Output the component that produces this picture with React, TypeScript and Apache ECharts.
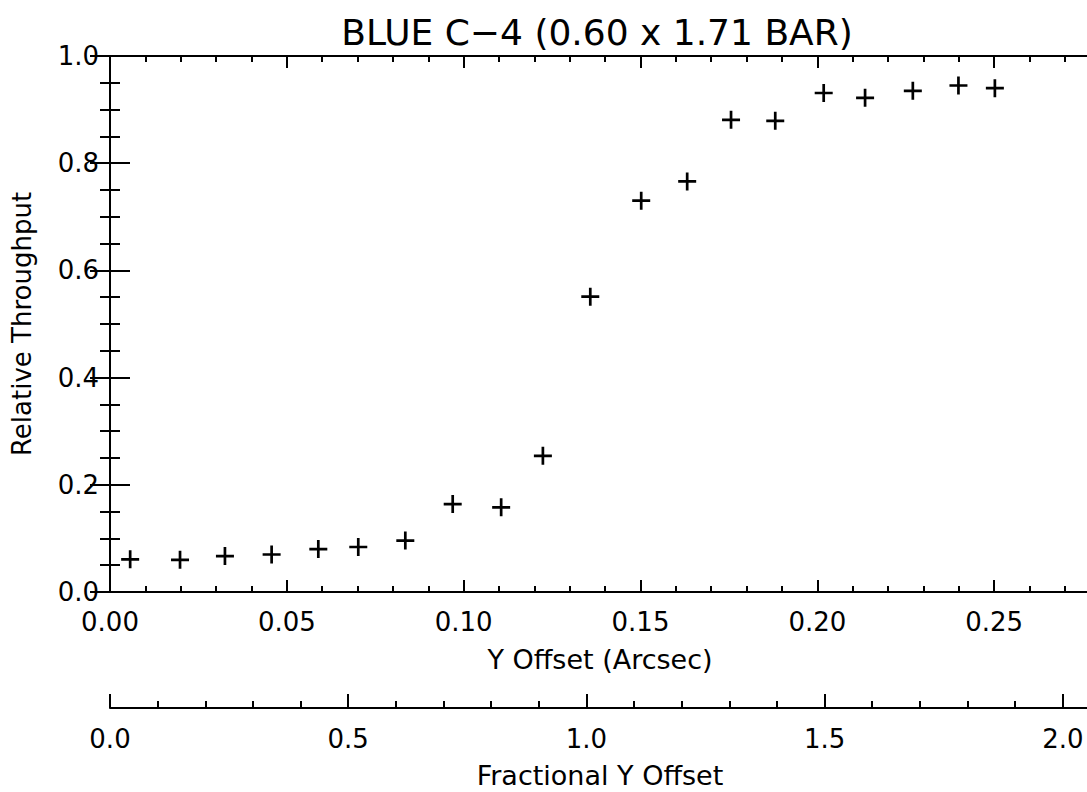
import React, { useEffect, useRef } from "react";
import * as echarts from "echarts";

// Data
const yOffsetArcsec = [
  0.0057, 0.0198, 0.0325, 0.0457, 0.0589, 0.0702, 0.0835, 0.0969, 0.1106, 0.1224,
  0.1358, 0.1502, 0.1632, 0.1756, 0.1881, 0.2018, 0.2135, 0.227, 0.2399, 0.2502,
];
const relativeThroughput = [
  0.061, 0.06, 0.067, 0.07, 0.08, 0.084, 0.096, 0.164, 0.158, 0.254,
  0.551, 0.73, 0.766, 0.881, 0.879, 0.931, 0.922, 0.935, 0.945, 0.94,
];

const titleText = "BLUE C\u22124 (0.60 x 1.71 BAR)";
const xName = "Y Offset (Arcsec)";
const yName = "Relative Throughput";
const x2Name = "Fractional Y Offset";

const FONT = "'DejaVu Sans', 'Noto Sans', sans-serif";
const PLUS = "path://M6.8,0h2.4v6.8h6.8v2.4h-6.8v6.8h-2.4v-6.8h-6.8v-2.4h6.8z";

export default function App() {
  const ref = useRef<HTMLDivElement>(null);
  useEffect(() => {
    if (!ref.current) return;
    const chart = echarts.init(ref.current, undefined, { renderer: "svg" });
    const black = "#000";
    const line = { show: true, lineStyle: { color: black, width: 2 } };
    const label = { color: black, fontSize: 26, fontFamily: FONT };
    const nameStyle = { color: black, fontSize: 27, fontFamily: FONT };
    const g = { outerBoundsMode: "none", containLabel: false };
    chart.setOption({
      animation: false,
      backgroundColor: "#fff",
      textStyle: { fontFamily: FONT, color: black },
      graphic: [
        {
          type: "text",
          x: 597,
          y: 32,
          style: {
            text: titleText,
            fontSize: 36,
            fontFamily: FONT,
            fill: black,
            textAlign: "center",
            textVerticalAlign: "middle",
          },
        },
      ],
      grid: [
        { left: 110, top: 56, width: 1061, height: 536, ...g },
        { left: 110, top: 707, width: 1191, height: 1, ...g },
        { left: 110, top: 56, width: 980, height: 536, ...g },
        { left: 110, top: 707, width: 980, height: 1, ...g },
      ],
      xAxis: [
        {
          type: "value",
          gridIndex: 0,
          position: "bottom",
          min: 0,
          max: 0.3,
          interval: 0.05,
          axisLine: line,
          axisTick: { show: true, inside: true, length: 12, lineStyle: { color: black, width: 2 } },
          minorTick: { show: true, splitNumber: 5, length: 6, lineStyle: { color: black, width: 2 } },
          splitLine: { show: false },
          axisLabel: { ...label, margin: 17, showMaxLabel: false, formatter: (v: number) => v.toFixed(2) },
        },
        {
          type: "value",
          gridIndex: 0,
          position: "top",
          min: 0,
          max: 0.3,
          interval: 0.05,
          axisLine: line,
          axisTick: { show: true, inside: true, length: 12, lineStyle: { color: black, width: 2 } },
          minorTick: { show: true, splitNumber: 5, length: 6, lineStyle: { color: black, width: 2 } },
          splitLine: { show: false },
          axisLabel: { show: false },
        },
        {
          type: "value",
          gridIndex: 1,
          position: "bottom",
          min: 0,
          max: 2.5,
          interval: 0.5,
          axisLine: line,
          axisTick: { show: true, inside: true, length: 14, lineStyle: { color: black, width: 2 } },
          minorTick: { show: true, splitNumber: 5, length: 7, lineStyle: { color: black, width: 2 } },
          splitLine: { show: false },
          axisLabel: { ...label, margin: 18, showMaxLabel: false, formatter: (v: number) => v.toFixed(1) },
        },
        {
          type: "value",
          gridIndex: 2,
          position: "bottom",
          min: 0,
          max: 1,
          axisLine: { show: false },
          axisTick: { show: false },
          axisLabel: { show: false },
          splitLine: { show: false },
          name: xName,
          nameLocation: "middle",
          nameGap: 54,
          nameTextStyle: nameStyle,
        },
        {
          type: "value",
          gridIndex: 3,
          position: "bottom",
          min: 0,
          max: 1,
          axisLine: { show: false },
          axisTick: { show: false },
          axisLabel: { show: false },
          splitLine: { show: false },
          name: x2Name,
          nameLocation: "middle",
          nameGap: 54,
          nameTextStyle: nameStyle,
        },
      ],
      yAxis: [
        {
          type: "value",
          gridIndex: 0,
          position: "left",
          min: 0,
          max: 1,
          interval: 0.2,
          axisLine: line,
          axisTick: { show: true, inside: true, length: 20, lineStyle: { color: black, width: 2 } },
          minorTick: { show: true, splitNumber: 4, length: 10, lineStyle: { color: black, width: 2 } },
          splitLine: { show: false },
          axisLabel: { ...label, margin: 11, formatter: (v: number) => v.toFixed(1) },
          name: yName,
          nameLocation: "middle",
          nameGap: 75,
          nameTextStyle: { ...label },
        },
        { type: "value", gridIndex: 1, show: false, min: 0, max: 1 },
        {
          type: "value",
          gridIndex: 2,
          position: "right",
          min: 0,
          max: 1,
          interval: 0.2,
          axisLine: { show: false },
          axisTick: { show: true, inside: true, length: 20, lineStyle: { color: black, width: 2 } },
          minorTick: { show: true, splitNumber: 4, length: 10, lineStyle: { color: black, width: 2 } },
          splitLine: { show: false },
          axisLabel: { show: false },
        },
        { type: "value", gridIndex: 3, show: false, min: 0, max: 1 },
      ],
      series: [
        {
          type: "scatter",
          xAxisIndex: 0,
          yAxisIndex: 0,
          symbol: PLUS,
          symbolSize: 18,
          itemStyle: { color: black, opacity: 1 },
          data: yOffsetArcsec.map((x, i) => [x, relativeThroughput[i]]),
        },
      ],
    });
    return () => chart.dispose();
  }, []);
  return (
    <div
      ref={ref}
      style={{ position: "fixed", left: 0, top: 0, width: 1087, height: 792, background: "#fff" }}
    />
  );
}
